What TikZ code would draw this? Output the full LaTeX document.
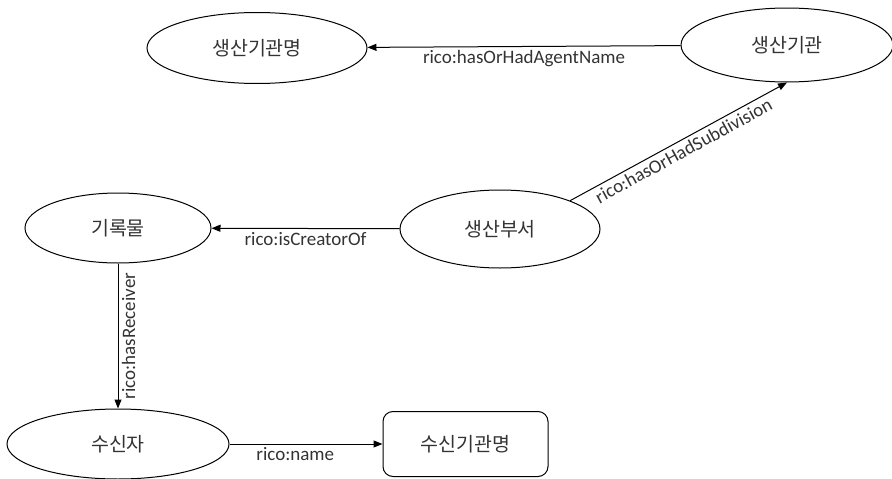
\documentclass[tikz,border=0pt]{standalone}
\usepackage{fontspec}
\setmainfont{Carlito}
\newfontfamily\kr{Noto Sans CJK KR}
\usetikzlibrary{shapes.geometric,arrows.meta}
\begin{document}
\begin{tikzpicture}[x=1pt, y=-1pt, line width=1pt, >={Triangle[length=9pt,width=7pt]},
    ent/.style={draw, ellipse, inner sep=0pt, font=\kr\fontsize{19.5}{22}\selectfont, text=black!80},
    lab/.style={font=\fontsize{19}{21}\selectfont, text=black!80}]
    \useasboundingbox (0,0) rectangle (892,479) ;
    \node[ent, minimum width=220pt, minimum height=71pt] (agname) at (257,48) {생산기관명} ;
    \node[ent, minimum width=212pt, minimum height=74pt] (agency) at (787,45) {생산기관} ;
    \node[ent, minimum width=200pt, minimum height=78pt] (dept) at (500,229) {생산부서} ;
    \node[ent, minimum width=186pt, minimum height=70pt] (rec) at (118,228) {기록물} ;
    \node[ent, minimum width=222pt, minimum height=70pt] (recv) at (118,444) {수신자} ;
    \node[ent, rectangle, rounded corners=10pt, minimum width=165pt, minimum height=65pt] (recvname) at (465.5,444) {수신기관명} ;
    \draw[->] (agency) -- node[lab, below]{rico:hasOrHadAgentName} (agname) ;
    \draw[->] (dept.22) -- node[lab, below, sloped]{rico:hasOrHadSubdivision} (agency.south) ;
    \draw[->] (dept) -- node[lab, below]{rico:isCreatorOf} (rec) ;
    \draw[->] (rec) -- node[lab, below, rotate=90]{rico:hasReceiver} (recv) ;
    \draw[->] (recv) -- node[lab, below, pos=0.43]{rico:name} (recvname) ;
\end{tikzpicture}
\end{document}
